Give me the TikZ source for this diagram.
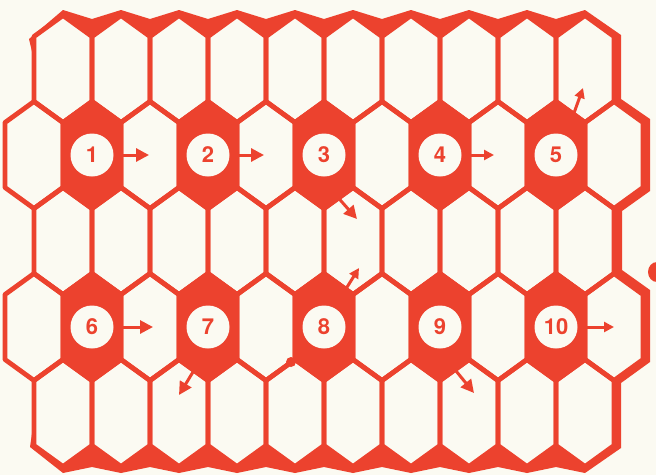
\documentclass[tikz,border=0pt]{standalone}
\usepackage{fontspec}
\setmainfont{TeX Gyre Heros}
\usetikzlibrary{arrows.meta}
\definecolor{ink}{RGB}{236,66,46}
\definecolor{paper}{RGB}{251,250,242}
\newcommand{\hexcell}[2]{(#1,#2-53.5) -- (#1+29,#2-32.5) -- (#1+29,#2+32.5) -- (#1,#2+53.5) -- (#1-29,#2+32.5) -- (#1-29,#2-32.5) -- cycle}
\tikzset{
  cellline/.style={draw=ink, line width=4.8pt, line join=round},
  emptycell/.style={fill=paper},
  fullcell/.style={fill=ink},
  rim/.style={fill=ink},
  numdisc/.style={circle, fill=paper, minimum size=43pt, inner sep=0pt, text=ink,
    font=\fontsize{22}{22}\selectfont\bfseries},
  arr/.style={draw=ink, line width=3pt, -{Triangle[length=13pt,width=13pt]}},
  arrsmall/.style={draw=ink, line width=3pt, -{Triangle[length=10pt,width=10pt]}},
}
\begin{document}
\begin{tikzpicture}[x=1pt,y=-1pt]
\fill[paper] (0,0) rectangle (656,475);
\useasboundingbox (0,0) rectangle (656,475);
% heavy outer rim (top, right, bottom), partly covered by the cells
\fill[rim] (29,39) -- (63,10)
  \foreach \k in {0,...,8}{ -- ({92+58*\k},19) -- ({121+58*\k},10)}
  -- (621,35) -- (621,99) -- (650,119) -- (650,191) -- (622,211)
  -- (622,270) -- (650,290) -- (650,362) -- (621,383) -- (621,448)
  -- (585,473)
  \foreach \k in {8,...,0}{ -- ({92+58*\k},467) -- ({63+58*\k},473)}
  -- (30,447) -- (34,420) -- (34,60) -- cycle;
% cell fills
\foreach \k in {0,...,9}{
  \fill[emptycell] \hexcell{63+58*\k}{69};
  \fill[emptycell] \hexcell{63+58*\k}{241};
  \fill[emptycell] \hexcell{63+58*\k}{413};
}
\foreach \k in {0,2,...,10}{
  \fill[emptycell] \hexcell{34+58*\k}{155};
  \fill[emptycell] \hexcell{34+58*\k}{327};
}
\foreach \k in {1,3,...,9}{
  \fill[fullcell] \hexcell{34+58*\k}{155};
  \fill[fullcell] \hexcell{34+58*\k}{327};
}
% cell outlines
\foreach \k in {0,...,9}{
  \draw[cellline] \hexcell{63+58*\k}{69};
  \draw[cellline] \hexcell{63+58*\k}{241};
  \draw[cellline] \hexcell{63+58*\k}{413};
}
\foreach \k in {0,...,10}{
  \draw[cellline] \hexcell{34+58*\k}{155};
  \draw[cellline] \hexcell{34+58*\k}{327};
}
% small blobs
\fill[ink] (291,362) circle (5);
\fill[ink] (657,272) ellipse (9 and 10);
% number discs
\node[numdisc] (c1) at (92,155) {1};
\node[numdisc] (c2) at (208,155) {2};
\node[numdisc] (c3) at (324,155) {3};
\node[numdisc] (c4) at (440,155) {4};
\node[numdisc] (c5) at (556,155) {5};
\node[numdisc] (c6) at (92,327) {6};
\node[numdisc] (c7) at (208,327) {7};
\node[numdisc] (c8) at (324,327) {8};
\node[numdisc] (c9) at (440,327) {9};
\node[numdisc] (c10) at (556,327) {10};
% arrow ends
\coordinate (t1) at (149,155);
\coordinate (t2) at (264,155);
\coordinate (a3) at (334,193);
\coordinate (t3) at (357,219);
\coordinate (t4) at (494,155);
\coordinate (a5) at (574,113);
\coordinate (t5) at (583,88);
\coordinate (t6) at (153,327);
\coordinate (a7) at (196,367);
\coordinate (t7) at (179,395);
\coordinate (a8) at (344,292);
\coordinate (t8) at (359,268);
\coordinate (a9) at (452,366);
\coordinate (t9) at (474,393);
\coordinate (t10) at (614,327);
% arrows
\draw[arr] (c1.east) -- (t1);
\draw[arr] (c2.east) -- (t2);
\draw[arr] (a3) -- (t3);
\draw[arrsmall] (c4.east) -- (t4);
\draw[arrsmall] (a5) -- (t5);
\draw[arr] (c6.east) -- (t6);
\draw[arr] (a7) -- (t7);
\draw[arrsmall] (a8) -- (t8);
\draw[arr] (a9) -- (t9);
\draw[arrsmall] (c10.east) -- (t10);
\end{tikzpicture}
\end{document}
